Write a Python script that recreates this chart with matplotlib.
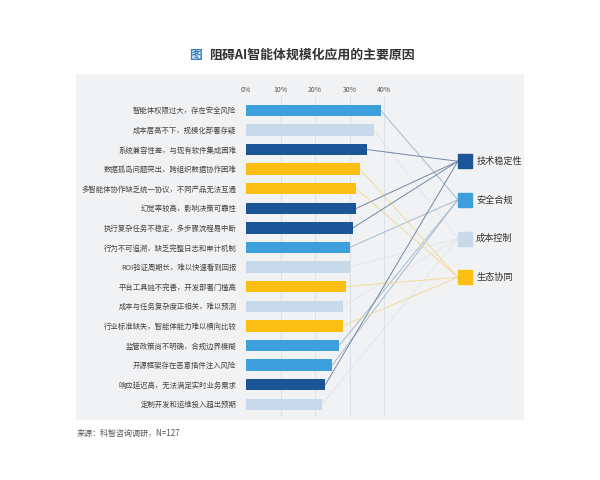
import matplotlib.pyplot as plt
from matplotlib.patches import Rectangle

plt.rcParams['font.family'] = ['Noto Sans CJK SC', 'DejaVu Sans']

# data (percent of respondents)
reasons = ['智能体权限过大，存在安全风险', '成本居高不下，规模化部署存疑',
           '系统兼容性差，与现有软件集成困难', '数据孤岛问题突出，跨组织数据协作困难',
           '多智能体协作缺乏统一协议，不同产品无法互通', '幻觉率较高，影响决策可靠性',
           '执行复杂任务不稳定，多步骤流程易中断', '行为不可追溯，缺乏完整日志和审计机制',
           'ROI验证周期长，难以快速看到回报', '平台工具链不完善，开发部署门槛高',
           '成本与任务复杂度正相关，难以预测', '行业标准缺失，智能体能力难以横向比较',
           '监管政策尚不明确，合规边界模糊', '开源框架存在恶意插件注入风险',
           '响应延迟高，无法满足实时业务需求', '定制开发和运维投入超出预期']
values = [39, 37, 35, 33, 32, 32, 31, 30, 30, 29, 28, 28, 27, 25, 23, 22]
groups = ['安全合规', '成本控制', '技术稳定性', '生态协同', '生态协同', '技术稳定性',
          '技术稳定性', '安全合规', '成本控制', '生态协同', '成本控制', '生态协同',
          '安全合规', '安全合规', '技术稳定性', '成本控制']
categories = ['技术稳定性', '安全合规', '成本控制', '生态协同']
tick_vals = [0, 10, 20, 30, 40]

colors = {'技术稳定性': '#1b5597', '安全合规': '#3d9fdc',
          '成本控制': '#c8dae9', '生态协同': '#fbbf13'}
line_colors = {'技术稳定性': '#7388a6', '安全合规': '#a6bccf',
               '成本控制': '#e2e7ec', '生态协同': '#f0db9a'}

fig = plt.figure(figsize=(6, 4.8), dpi=100)

# light grey panel behind the chart
fig.patches.append(Rectangle((76 / 600, 1 - 420 / 480), 448 / 600, 346 / 480,
                             transform=fig.transFigure, facecolor='#f1f2f4',
                             edgecolor='none', zorder=-10))

ax = fig.add_axes([246 / 600, 1 - 416 / 480, 294 / 600, 319 / 480])
ax.set_facecolor('none')
ax.set_xlim(0, 85.2)
ax.set_ylim(15.6, -0.68)
for s in ax.spines.values():
    s.set_visible(False)

for t in tick_vals[1:]:
    ax.axvline(t, color='#dde2e8', linewidth=0.8, zorder=0)

y = list(range(len(reasons)))
ax.barh(y, values, height=0.58, color=[colors[g] for g in groups], zorder=2)

ax.set_yticks(y)
ax.set_yticklabels(reasons, fontsize=5.3, color='#444444')
ax.tick_params(axis='y', length=0, pad=7)
ax.xaxis.tick_top()
ax.set_xticks(tick_vals)
ax.set_xticklabels([f'{t}%' for t in tick_vals], fontsize=5, color='#555555')
ax.tick_params(axis='x', length=0, pad=2.5)

# legend squares on the right, with lines from each bar
leg_x = 63.5
leg_left = 61.4
leg_y = [2.6, 4.56, 6.55, 8.52]
leg_pos = dict(zip(categories, leg_y))
order = ['成本控制', '安全合规', '生态协同', '技术稳定性']
for cat in order:
    for yi, v, g in zip(y, values, groups):
        if g == cat:
            ax.plot([v, leg_left], [yi, leg_pos[cat]], color=line_colors[cat],
                    linewidth=0.7, zorder=1)
for cat, ly in zip(categories, leg_y):
    ax.plot(leg_x, ly, marker='s', markersize=10.5, color=colors[cat],
            linestyle='none', zorder=3, clip_on=False)
    ax.text(leg_x + 3.2, ly, cat, fontsize=6.6, color='#333333',
            va='center', ha='left')

# title and source
fig.text(196 / 600, 1 - 55 / 480, '图', fontsize=9.3, color='#3a7fc4',
         fontweight='bold', ha='center', va='center')
fig.text(209 / 600, 1 - 55 / 480, '阻碍AI智能体规模化应用的主要原因', fontsize=9.3,
         color='#333333', fontweight='bold', ha='left', va='center')
fig.text(77 / 600, 1 - 433 / 480, '来源：科智咨询调研，N=127', fontsize=5.8,
         color='#555555', ha='left', va='center')

plt.savefig('out.png', dpi=100)
